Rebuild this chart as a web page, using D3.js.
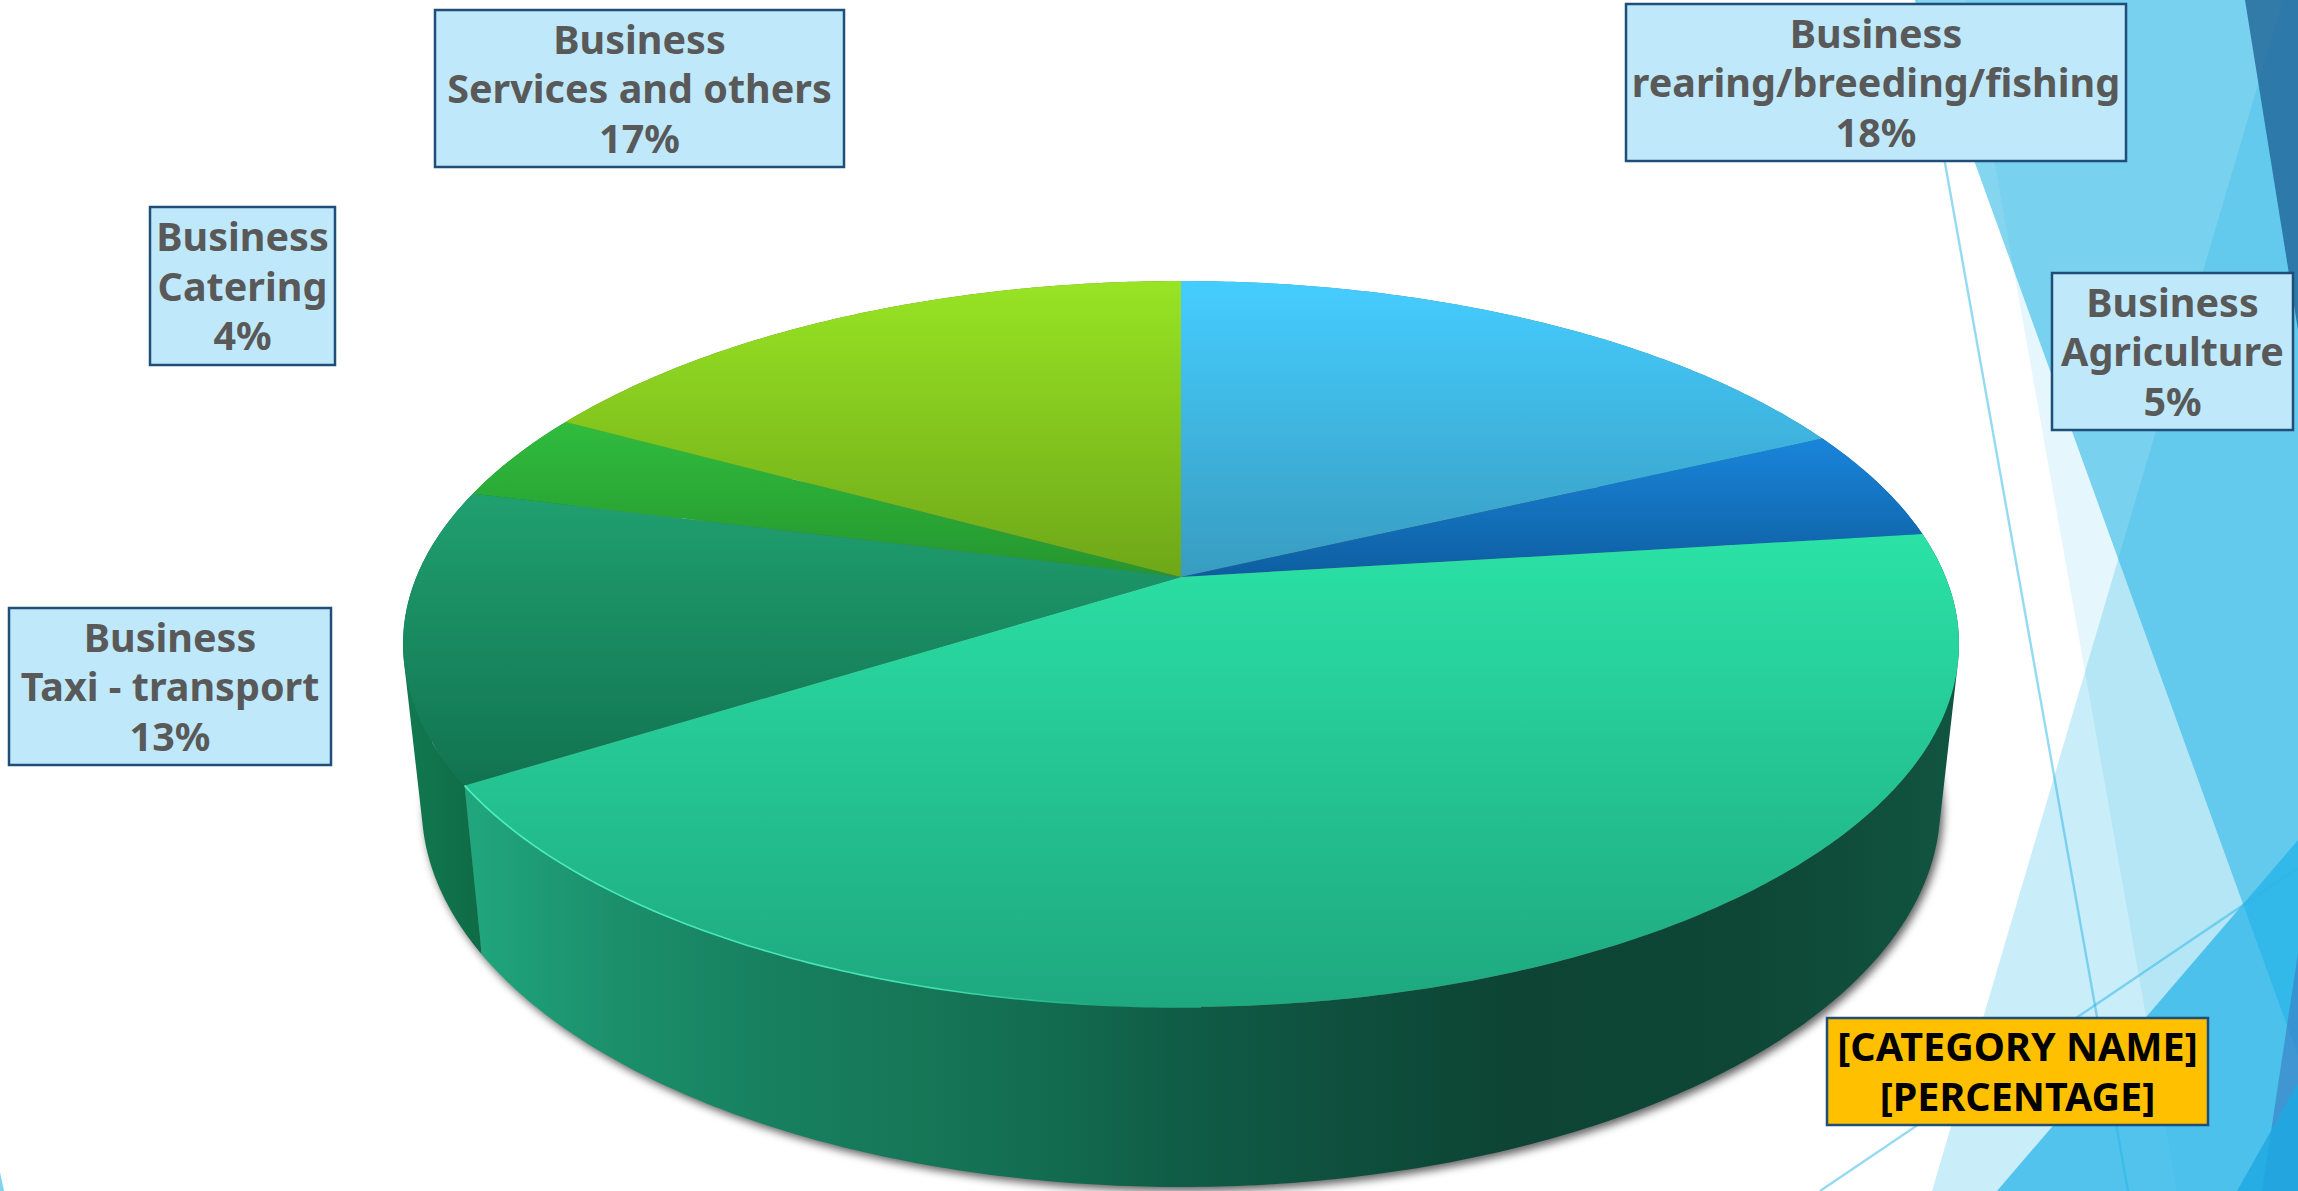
<!DOCTYPE html>
<html>
<head>
<meta charset="utf-8">
<script src="https://cdn.jsdelivr.net/npm/d3@7"></script>
<style>
  html, body { margin: 0; padding: 0; background: #fff; overflow: hidden; }
  svg { display: block; }
  text { font-family: "Noto Sans", sans-serif; font-weight: 700; text-anchor: middle; }
</style>
</head>
<body>
<svg id="chart" width="2298" height="1191"></svg>
<script>
// Shares of business activity, clockwise from twelve o'clock
const categories = [
  ["Business", "rearing/breeding/fishing"],
  ["Business", "Agriculture"],
  ["[CATEGORY NAME]"],
  ["Business", "Taxi - transport"],
  ["Business", "Catering"],
  ["Business", "Services and others"]
];
const shares = [18, 5, 43, 13, 4, 17];
const percentLabels = ["18%", "5%", "[PERCENTAGE]", "13%", "4%", "17%"];

// Top-face gradient ends per slice, from the far rim to the near edge
const topColors = [
  ["#45cdff", "#389cc0"], ["#1a85da", "#0d5ea0"], ["#2be2a6", "#1ea87f"],
  ["#20a070", "#117350"], ["#30bc3e", "#25962e"], ["#98e424", "#6ea718"]
];
const sideColors = ["#2b86a8", "#0c4f86", null, null, "#1b7d28", "#5d8d14"];

// Label boxes: left, top, right, bottom
const labelBoxes = [
  [1626, 4, 2126, 161], [2052, 273, 2293, 430], [1827, 1018, 2208, 1125],
  [9, 608, 331, 765], [150, 207, 335, 365], [435, 10, 844, 167]
];

// Backdrop facets
const facets = [
  { pts: [[1916, 0], [2298, 0], [2298, 1056]], fill: "#29b6e6", op: 0.58 },
  { pts: [[2283, 0], [2298, 0], [2298, 1191], [1932, 1191]], fill: "#29b6e6", op: 0.25 },
  { pts: [[1966, 0], [2298, 0], [2298, 1191], [2177, 1191]], fill: "#29b6e6", op: 0.12 },
  { pts: [[2298, 840], [2298, 1191], [1997, 1191]], fill: "#1fb0e8", op: 0.7 },
  { pts: [[2245, 0], [2298, 0], [2298, 330]], fill: "#1b5e92", op: 0.75 },
  { pts: [[2298, 953], [2298, 1191], [2262, 1191]], fill: "#3a7fc4", op: 0.65 },
  { pts: [[2298, 1083], [2298, 1191], [2237, 1191]], fill: "#1ea9e3", op: 0.85 },
  { pts: [[0, 1172], [4, 1191], [0, 1191]], fill: "#29b6e6", op: 0.6 }
];
const hairlines = [
  [[1916, 0], [2128, 1191]],
  [[1820, 1191], [2298, 868]]
];

const svg = d3.select("#chart");
const defs = svg.append("defs");

// Tilted disc with perspective: the far half is foreshortened relative to the near half
const hub = { x: 1181, y: 577 };
const spanX = 764.6, spanY = 350.6, persp = 0.1846;
function rim(angle) {
  const u = Math.sin(angle), v = Math.cos(angle), w = 1 + persp * v;
  return [hub.x + spanX * u / w, hub.y - spanY * v / w];
}
// Lower disc of the cylinder
function lower([x, y]) {
  return [hub.x + (x - hub.x) * 0.976, 1187 + 1.05 * (y - 1007)];
}
function arcPoints(a0, a1) {
  const n = Math.max(2, Math.ceil(Math.abs(a1 - a0) / 0.01));
  return d3.range(n + 1).map(i => rim(a0 + (a1 - a0) * i / n));
}
const line = d3.line();

// Wall of a slice as a union of thin quads wound the same way, so the
// silhouette follows the tangent between the upper and lower discs
function wallPath(a0, a1) {
  const a = arcPoints(a0, a1);
  return d3.pairs(a).map(([p, q]) => {
    const quad = [p, q, lower(q), lower(p)];
    if (d3.polygonArea(quad) < 0) quad.reverse();
    return line(quad) + "Z";
  }).join("");
}

const slices = d3.pie().sort(null).value(d => d)(shares);
const tau = 2 * Math.PI;

// Gradients
const grad = (id, x1, y1, x2, y2, stops) => {
  const g = defs.append("linearGradient").attr("id", id)
    .attr("gradientUnits", "userSpaceOnUse")
    .attr("x1", x1).attr("y1", y1).attr("x2", x2).attr("y2", y2);
  stops.forEach(([o, c]) => g.append("stop").attr("offset", o).attr("stop-color", c));
};
slices.forEach((s, i) => {
  const pts = arcPoints(s.startAngle, s.endAngle).concat([[hub.x, hub.y]]);
  grad("top" + i, 0, d3.min(pts, p => p[1]), 0, d3.max(pts, p => p[1]),
    [[0, topColors[i][0]], [1, topColors[i][1]]]);
});
grad("sideBig", 470, 0, 1960, 0, [
  [0, "#20a67d"], [0.1, "#1b8f6a"], [0.2, "#17805f"], [0.3, "#167757"],
  [0.4, "#126a4e"], [0.47, "#105d46"], [0.62, "#0e4c3a"], [0.7, "#0d4433"],
  [0.86, "#0e4736"], [1, "#115540"]
]);
grad("sideTaxi", 410, 0, 490, 0, [[0, "#11784f"], [1, "#0e6a45"]]);

const blur = defs.append("filter").attr("id", "soft")
  .attr("x", "-5%").attr("y", "-5%").attr("width", "110%").attr("height", "110%");
blur.append("feGaussianBlur").attr("stdDeviation", 4.5);

// Backdrop
svg.append("g").selectAll("polygon").data(facets).join("polygon")
  .attr("points", d => d.pts.join(" "))
  .attr("fill", d => d.fill).attr("fill-opacity", d => d.op);
svg.append("g").selectAll("path").data(hairlines).join("path")
  .attr("d", d => line(d))
  .attr("fill", "none").attr("stroke", "#29b6e6")
  .attr("stroke-opacity", 0.5).attr("stroke-width", 2.4);

// Drop shadow under the cylinder
svg.append("path")
  .attr("d", line(arcPoints(0, tau).map(lower)) + "Z")
  .attr("transform", "translate(3,4)")
  .attr("fill", "#000").attr("fill-opacity", 0.62)
  .attr("filter", "url(#soft)");

// Side wall, back slices first
const sideOrder = slices.map((s, i) => i)
  .sort((a, b) => Math.cos((slices[b].startAngle + slices[b].endAngle) / 2) -
                  Math.cos((slices[a].startAngle + slices[a].endAngle) / 2));
const sideFill = i => i === 2 ? "url(#sideBig)" : i === 3 ? "url(#sideTaxi)" : sideColors[i];
svg.append("g").selectAll("path").data(sideOrder).join("path")
  .attr("d", i => wallPath(slices[i].startAngle, slices[i].endAngle))
  .attr("fill", sideFill);

// Top face
svg.append("g").selectAll("path").data(slices).join("path")
  .attr("d", (s) => line([[hub.x, hub.y], ...arcPoints(s.startAngle, s.endAngle)]) + "Z")
  .attr("fill", (s, i) => `url(#top${i})`);

// Lit bevel along the near-left rim of the largest slice
const big = slices[2];
grad("bevel", 470, 0, 1100, 0, [[0, "#4ff0c0"], [0.75, "#3fe0b0"], [1, "#1fa880"]]);
svg.append("path")
  .attr("d", line(arcPoints(big.endAngle, big.endAngle - (big.endAngle - big.startAngle) * 0.38)))
  .attr("fill", "none").attr("stroke", "url(#bevel)").attr("stroke-width", 1.6);

// Data labels
const labels = svg.append("g").selectAll("g").data(slices).join("g");
labels.append("rect")
  .attr("x", (s, i) => labelBoxes[i][0])
  .attr("y", (s, i) => labelBoxes[i][1])
  .attr("width", (s, i) => labelBoxes[i][2] - labelBoxes[i][0])
  .attr("height", (s, i) => labelBoxes[i][3] - labelBoxes[i][1])
  .attr("fill", (s, i) => i === 2 ? "#ffc000" : "#bfe9fa")
  .attr("stroke", "#1f4e79").attr("stroke-width", 2.5);
labels.each(function (s, i) {
  const rows = categories[i].concat(percentLabels[i]);
  const [x0, y0, x1, y1] = labelBoxes[i];
  const pitch = 49.5;
  const firstBase = (y0 + y1) / 2 + 14.5 - pitch * (rows.length - 1) / 2;
  d3.select(this).selectAll("text").data(rows).join("text")
    .attr("x", (x0 + x1) / 2)
    .attr("y", (d, k) => firstBase + k * pitch)
    .attr("font-size", 39.5)
    .attr("fill", i === 2 ? "#000" : "#595959")
    .text(d => d);
});
</script>
</body>
</html>
